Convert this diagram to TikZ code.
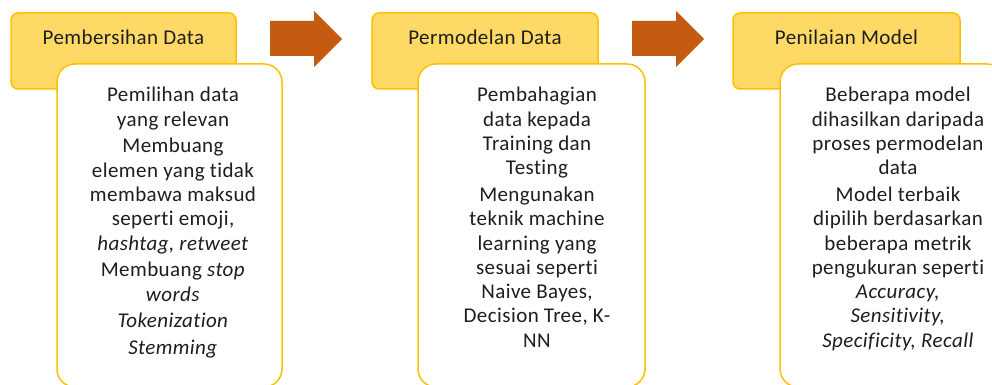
\documentclass[tikz,border=0pt]{standalone}
\usepackage{fontspec}
\setmainfont[Ligatures={NoCommon},LetterSpace=2]{Carlito}
\definecolor{hdrfill}{HTML}{FFD966}
\definecolor{gold}{HTML}{FFC000}
\definecolor{arrowc}{HTML}{C55A11}
\definecolor{txt}{HTML}{1E1E1E}
\tikzset{
  hdrbox/.style={draw=gold, fill=hdrfill, line width=1.5pt, rounded corners=7pt},
  bodybox/.style={draw=gold, fill=white, line width=1.5pt, rounded corners=18pt},
  flowarrow/.style={fill=arrowc, draw=none},
  hdrtext/.style={anchor=base, inner sep=0pt, text=txt, font=\fontsize{21}{24.3}\selectfont},
  bodytext/.style={anchor=north, inner sep=0pt, align=center, text=txt, font=\fontsize{21}{24.3}\selectfont}
}
\begin{document}
\begin{tikzpicture}[x=1pt,y=-1pt]
\useasboundingbox (0,0) rectangle (992,385);
\clip (0,0) rectangle (992,385);
% panel 1
\draw[hdrbox] (11,13) rectangle (236,89);
\node[hdrtext] (h1) at (123.5,45) {Pembersihan Data};
\draw[bodybox] (57,64) rectangle (282,387);
\node[bodytext] (b1) at (173,87) {Pemilihan data\\ yang relevan\\[2.5pt]
  Membuang\\ elemen yang tidak\\ membawa maksud\\ seperti emoji,\\ \textit{hashtag, retweet}\\[2.5pt]
  Membuang \textit{stop}\\ \textit{words}\\[2.5pt] \textit{Tokenization}\\[2.5pt] \textit{Stemming}};
% arrow 1
\fill[flowarrow] (270,21) -- (314,21) -- (314,11) -- (342,39) -- (314,67) -- (314,56) -- (270,56) -- cycle;
% panel 2
\draw[hdrbox] (372,13) rectangle (598,89);
\node[hdrtext] (h2) at (485,45) {Permodelan Data};
\draw[bodybox] (418,64) rectangle (645,387);
\node[bodytext] (b2) at (537,87) {Pembahagian\\ data kepada\\ Training dan\\ Testing\\[2.5pt]
  Mengunakan\\ teknik machine\\ learning yang\\ sesuai seperti\\ Naive Bayes,\\ Decision Tree, K-\\ NN};
% arrow 2
\fill[flowarrow] (632,21) -- (676,21) -- (676,11) -- (704,39) -- (676,67) -- (676,56) -- (632,56) -- cycle;
% panel 3
\draw[hdrbox] (733,13) rectangle (960,89);
\node[hdrtext] (h3) at (846.5,45) {Penilaian Model};
\draw[bodybox] (780,64) rectangle (1005,387);
\node[bodytext] (b3) at (898,87) {Beberapa model\\ dihasilkan daripada\\ proses permodelan\\ data\\[2.5pt]
  Model terbaik\\ dipilih berdasarkan\\ beberapa metrik\\ pengukuran seperti\\ \textit{Accuracy,}\\ \textit{Sensitivity,}\\ \textit{Specificity, Recall}};
\end{tikzpicture}
\end{document}
